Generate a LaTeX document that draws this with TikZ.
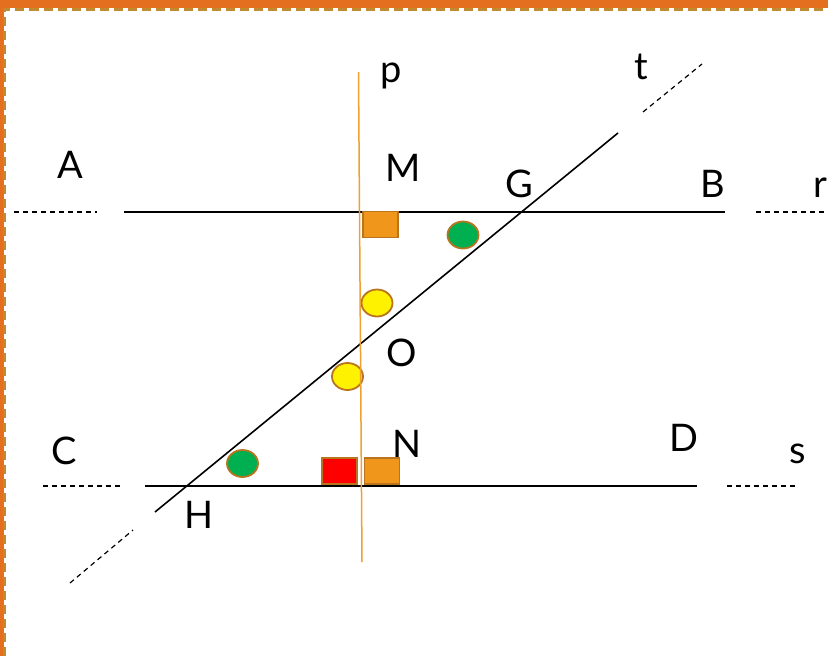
\documentclass[tikz,border=0pt]{standalone}
\usepackage{fontspec}
\setmainfont{Lato}
\usepackage{xcolor}
\usetikzlibrary{positioning,shapes.geometric}
\definecolor{frameorange}{HTML}{E4701F}
\definecolor{framegold}{HTML}{C08A30}
\definecolor{markorange}{HTML}{F0961A}
\definecolor{markedge}{HTML}{B8741E}
\definecolor{markgreen}{HTML}{00B050}
\definecolor{lineorange}{HTML}{F0A030}

\begin{document}
\begin{tikzpicture}[x=1pt, y=-1pt,
  lbl/.style={anchor=base, font=\fontsize{38}{40}\selectfont, inner sep=0pt},
  sqmark/.style={rectangle, draw=markedge, line width=1.8pt, minimum width=35pt, minimum height=26pt, inner sep=0pt},
  dotmark/.style={ellipse, draw=markedge, line width=1.8pt, minimum width=31pt, minimum height=27pt, inner sep=0pt},
  solidline/.style={draw, line width=2pt},
  dashline/.style={draw, line width=1.2pt, dash pattern=on 5pt off 4pt}]

  \useasboundingbox (0,0) rectangle (828,656);

  % Frame
  \fill[frameorange] (0,0) rectangle (828,8);
  \fill[frameorange] (0,0) rectangle (4,656);
  \draw[framegold, line width=3pt, dash pattern=on 9pt off 5pt] (4,656) -- (4,9.5) -- (828,9.5);

  % Line r
  \coordinate (rL1) at (14,212);
  \coordinate (rL2) at (97,212);
  \coordinate (rA) at (124,212);
  \coordinate (rB) at (725,212);
  \coordinate (rR1) at (756,212);
  \coordinate (rR2) at (830,212);

  % Line s
  \coordinate (sL1) at (43,486);
  \coordinate (sL2) at (120,486);
  \coordinate (sC) at (145,486);
  \coordinate (sD) at (697,486);
  \coordinate (sR1) at (727,486);
  \coordinate (sR2) at (797,486);

  % Line t
  \coordinate (tL1) at (70,583);
  \coordinate (tL2) at (133,530);
  \coordinate (tH) at (155,512);
  \coordinate (tG) at (618,133);
  \coordinate (tR1) at (643,112);
  \coordinate (tR2) at (702,64);

  % Line p
  \coordinate (pTop) at (358.5,72);
  \coordinate (pBot) at (362,562);

  \path [dashline] (rL1) -- (rL2);
  \path [solidline] (rA) -- (rB);
  \path [dashline] (rR1) -- (rR2);
  \path [dashline] (sL1) -- (sL2);
  \path [solidline] (sC) -- (sD);
  \path [dashline] (sR1) -- (sR2);
  \path [dashline] (tL1) -- (tL2);
  \path [solidline, line width=1.6pt] (tH) -- (tG);
  \path [dashline] (tR1) -- (tR2);

  % Marks
  \node [sqmark, fill=markorange] (sqM) at (380.5,224.5) {};
  \node [dotmark, fill=markgreen] (dotG) at (463,235) {};
  \node [dotmark, fill=yellow] (dotUp) at (377,303) {};
  \node [dotmark, fill=yellow] (dotLow) at (347.5,376.5) {};
  \node [dotmark, fill=markgreen] (dotH) at (242.5,463.5) {};
  \node [sqmark, fill=red] (sqRed) at (339.5,471) {};
  \node [sqmark, fill=markorange] (sqN) at (382,471) {};

  \draw [lineorange, line width=1.5pt] (pTop) -- (pBot);

  % Labels
  \node [lbl] (labp) at (391,82) {p};
  \node [lbl] (labt) at (641.5,79) {t};
  \node [lbl] (labA) at (70.5,178) {A};
  \node [lbl] (labM) at (403.5,181) {M};
  \node [lbl] (labG) at (519.5,197) {G};
  \node [lbl] (labB) at (713,197) {B};
  \node [lbl] (labr) at (820,197) {r};
  \node [lbl] (labO) at (401.5,366) {O};
  \node [lbl] (labC) at (64,464) {C};
  \node [lbl] (labN) at (407,457) {N};
  \node [lbl] (labD) at (683.5,451) {D};
  \node [lbl] (labs) at (797.5,463) {s};
  \node [lbl] (labH) at (199.5,528) {H};
\end{tikzpicture}
\end{document}
